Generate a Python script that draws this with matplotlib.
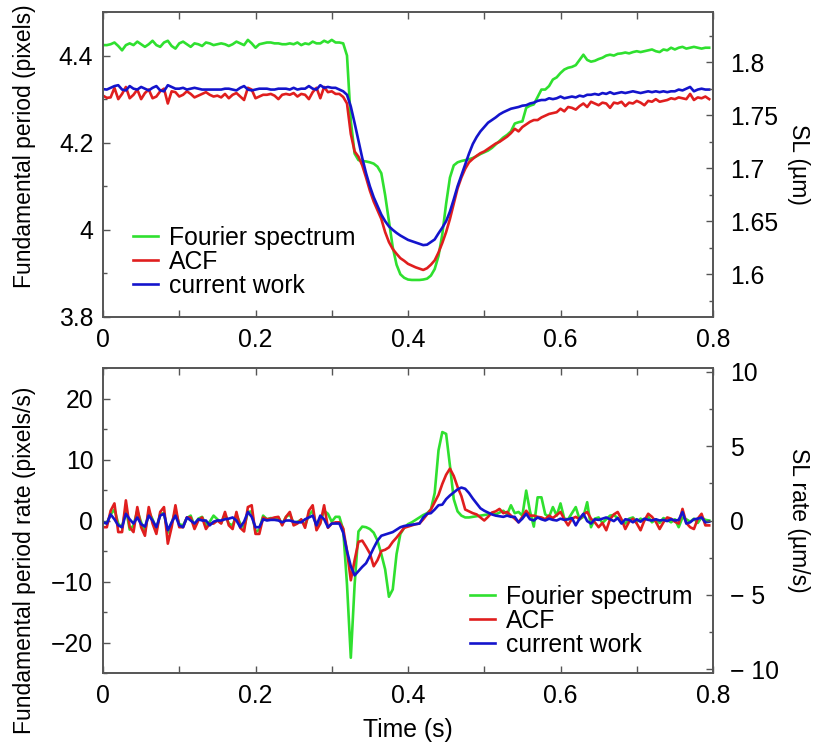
"""
plot.py

Fundamental period / sarcomere length traces (top) and their rates (bottom)
for three estimators: Fourier spectrum, ACF and the current work.

Output:
    out.png
"""

from __future__ import annotations

import matplotlib

matplotlib.use("Agg")
import matplotlib.pyplot as plt
import numpy as np
from matplotlib.ticker import MultipleLocator


DT = 0.005  # s between frames
PIXEL_TO_UM = 0.4105  # SL (um) per pixel of fundamental period

LABELS = ["Fourier spectrum", "ACF", "current work"]
COLORS = ["#2fe02f", "#e01e1e", "#1414cc"]

# --- top panel: fundamental period (pixels), one value per frame ---
period_fourier = [
    4.424, 4.424, 4.426, 4.430, 4.422, 4.412, 4.424, 4.428, 4.424, 4.432,
    4.426, 4.420, 4.426, 4.434, 4.424, 4.420, 4.430, 4.434, 4.422, 4.416,
    4.428, 4.432, 4.426, 4.420, 4.428, 4.426, 4.422, 4.430, 4.428, 4.424,
    4.426, 4.428, 4.426, 4.422, 4.426, 4.432, 4.428, 4.424, 4.436, 4.428,
    4.418, 4.426, 4.428, 4.430, 4.430, 4.428, 4.428, 4.426, 4.426, 4.428,
    4.426, 4.430, 4.424, 4.428, 4.426, 4.432, 4.428, 4.428, 4.434, 4.430,
    4.436, 4.430, 4.430, 4.428,
    4.400, 4.250, 4.175, 4.160, 4.158, 4.157, 4.155, 4.152, 4.145, 4.130,
    4.080, 4.020, 3.960, 3.920, 3.898, 3.890,
    3.886, 3.885, 3.885, 3.885, 3.886, 3.888, 3.895, 3.910, 3.940, 3.990,
    4.060, 4.120, 4.148, 4.155, 4.158, 4.160, 4.162, 4.165, 4.169, 4.174,
    4.178, 4.182, 4.188, 4.196, 4.204, 4.212, 4.218, 4.226, 4.244, 4.247,
    4.249, 4.280, 4.285, 4.288, 4.305, 4.322, 4.322, 4.330, 4.345, 4.350,
    4.360, 4.368, 4.372, 4.374, 4.378, 4.390, 4.402, 4.390, 4.386, 4.388,
    4.392, 4.395, 4.400, 4.402, 4.400, 4.404, 4.405, 4.407, 4.405, 4.408,
    4.410, 4.408, 4.410, 4.412, 4.414, 4.410, 4.408, 4.414, 4.412, 4.418,
    4.414, 4.418, 4.420, 4.416, 4.418, 4.420, 4.418, 4.416, 4.418, 4.418,
]
period_acf = [
    4.308, 4.303, 4.304, 4.326, 4.300, 4.312, 4.328, 4.302, 4.310, 4.322,
    4.300, 4.314, 4.322, 4.302, 4.306, 4.318, 4.324, 4.290, 4.318, 4.316,
    4.306, 4.310, 4.318, 4.312, 4.304, 4.308, 4.312, 4.316, 4.310, 4.306,
    4.308, 4.304, 4.312, 4.302, 4.310, 4.314, 4.306, 4.298, 4.326, 4.322,
    4.302, 4.306, 4.310, 4.310, 4.312, 4.308, 4.300, 4.310, 4.312, 4.310,
    4.314, 4.306, 4.312, 4.310, 4.300, 4.316, 4.326, 4.302, 4.328, 4.316,
    4.318, 4.312, 4.312, 4.305,
    4.290, 4.220, 4.180, 4.168, 4.148, 4.120, 4.090, 4.065, 4.045, 4.025,
    3.995, 3.972, 3.956, 3.945, 3.935, 3.929,
    3.922, 3.918, 3.914, 3.911, 3.908, 3.912, 3.920, 3.930, 3.948, 3.970,
    3.995, 4.025, 4.060, 4.095, 4.120, 4.140, 4.155, 4.163, 4.170, 4.176,
    4.180, 4.186, 4.192, 4.198, 4.202, 4.208, 4.214, 4.222, 4.232, 4.226,
    4.236, 4.242, 4.248, 4.252, 4.252, 4.258, 4.262, 4.266, 4.268, 4.270,
    4.278, 4.272, 4.282, 4.280, 4.276, 4.284, 4.290, 4.282, 4.294, 4.290,
    4.286, 4.292, 4.290, 4.280, 4.292, 4.290, 4.294, 4.284, 4.292, 4.290,
    4.296, 4.292, 4.286, 4.296, 4.294, 4.300, 4.294, 4.296, 4.298, 4.302,
    4.300, 4.304, 4.302, 4.300, 4.312, 4.298, 4.304, 4.302, 4.306, 4.300,
]
period_current = [
    4.323, 4.322, 4.326, 4.330, 4.332, 4.322, 4.320, 4.330, 4.324, 4.322,
    4.328, 4.324, 4.320, 4.326, 4.330, 4.320, 4.318, 4.332, 4.328, 4.324,
    4.324, 4.326, 4.322, 4.324, 4.326, 4.324, 4.322, 4.322, 4.322, 4.322,
    4.322, 4.322, 4.324, 4.324, 4.322, 4.320, 4.326, 4.330, 4.322, 4.320,
    4.322, 4.324, 4.324, 4.324, 4.322, 4.322, 4.324, 4.324, 4.324, 4.322,
    4.326, 4.322, 4.324, 4.324, 4.330, 4.324, 4.322, 4.332, 4.326, 4.328,
    4.326, 4.326, 4.322, 4.318,
    4.310, 4.283, 4.245, 4.205, 4.165, 4.130, 4.100, 4.075, 4.055, 4.035,
    4.020, 4.008, 4.000, 3.993, 3.987, 3.982,
    3.977, 3.974, 3.971, 3.968, 3.965, 3.966, 3.972, 3.978, 3.992, 4.005,
    4.020, 4.042, 4.070, 4.100, 4.125, 4.150, 4.175, 4.197, 4.213, 4.226,
    4.236, 4.246, 4.252, 4.258, 4.265, 4.270, 4.274, 4.278, 4.280, 4.282,
    4.285, 4.286, 4.290, 4.292, 4.296, 4.298, 4.298, 4.302, 4.300, 4.302,
    4.306, 4.302, 4.304, 4.306, 4.304, 4.308, 4.306, 4.310, 4.310, 4.312,
    4.310, 4.314, 4.312, 4.316, 4.312, 4.314, 4.316, 4.314, 4.316, 4.318,
    4.316, 4.314, 4.316, 4.318, 4.316, 4.318, 4.316, 4.318, 4.316, 4.318,
    4.318, 4.322, 4.320, 4.324, 4.328, 4.318, 4.322, 4.324, 4.322, 4.322,
]

# --- bottom panel: fundamental period rate (pixels/s) ---
rate_fourier = [
    -0.3, -0.5, 1.0, 1.8, -0.5, -1.2, 2.0, -1.5, -0.8, 1.6,
    -0.3, -1.8, 1.5, 0.2, -1.5, 1.1, 1.2, -2.0, -0.5, 1.6,
    -0.6, -0.8, 0.4, 0.8, -0.9, 0.3, 0.6, -0.8, -0.2, 0.8,
    0.2, -0.4, 1.0, -0.5, -0.8, 0.9, -0.5, -1.2, 1.4, 1.5,
    -1.9, -1.5, 0.8, 0.2, 0.4, 0.3, 0.5, -0.6, 0.6, 1.0,
    -0.4, -0.2, 0.1, -0.8, 0.9, 1.6, -1.0, -0.3, 1.6, 1.1,
    -0.2, 0.6, 0.6,
    -1.5, -10.5, -22.5, -10.5, -1.8, -1.0, -1.1, -1.4, -2.0, -3.3,
    -5.5, -8.0, -12.5, -11.3, -5.5, -2.2, -1.2, -0.6, -0.3, 0.1,
    0.5, 0.9, 1.2, 1.8, 4.5, 11.5, 14.5, 14.2, 9.0, 3.5,
    1.5, 0.8, 0.5, 0.5, 0.6, 0.7, 0.8, 0.9, 1.0,
    1.2, 1.0, 1.3, 1.6, 1.0, 2.5, 1.2, 1.4, 0.8, 4.9,
    1.5, -1.0, 3.8, 3.8, 1.0, 0.6, 2.2, 0.8, 2.8, 0.3,
    0.2, 1.2, 2.2, 0.2, 0.6, 3.0, -1.1, 0.3, 0.5, -0.4,
    0.2, 0.8, 0.9, 0.4, -0.2, -0.5, 0.3, 0.5, -0.2, 0.3,
    0.0, 0.6, -0.3, 0.2, -0.4, 0.4, 0.1, -0.3, 0.2, -1.1,
    0.5, 0.2, -0.2, 0.3, -0.4, 0.5, 0.1, 0.0,
]
rate_acf = [
    -1.1, -1.1, 1.6, 2.8, -1.9, -1.9, 3.3, -1.1, -1.9, 2.2,
    -1.1, -2.5, 2.2, -0.5, -2.2, 1.4, 2.2, -3.8, -1.1, 2.5,
    -1.1, -1.1, 0.5, 0.5, -1.4, 0.0, 0.5, -1.4, -0.5, -0.5,
    0.0, -0.5, 1.4, -0.8, -1.4, 1.4, -1.2, -1.8, 2.2, 2.5,
    -2.2, -2.2, 0.5, 0.2, 0.3, 0.5, 0.6, -0.8, 0.6, 1.4,
    -0.8, -0.5, 0.2, -1.2, 1.6, 2.5, -1.6, -0.5, 2.5, -1.2,
    -0.5, -0.3, -0.3,
    -1.3, -5.0, -9.8, -6.5, -3.5, -3.3, -4.3, -5.4, -7.5, -6.5,
    -5.0, -4.8, -4.4, -3.5, -2.8, -2.0, -1.2, -1.0, -0.8, -0.6,
    -0.5, 0.2, 1.0, 1.8, 3.0, 4.2, 6.0, 7.5, 8.5, 7.3,
    5.5, 4.0, 1.8, 1.5, 1.2, 1.0, 0.5, 0.0, 0.6, 1.3,
    1.5, 1.9, 1.2, 1.4, 0.8, 0.3, -0.3, 0.6, 1.6, 0.8,
    0.8, 0.6, 0.5, 0.2, 0.8, 0.4, 0.9, 1.4, 0.2, -0.8,
    0.3, 0.6, 0.2, 1.0, 1.4, 0.3, -0.3, -1.1, -0.4, -1.6,
    0.2, 1.0, 1.4, 0.2, -1.4, -0.2, 0.3, -0.5, -1.6, 0.0,
    1.1, 0.6, -0.2, -1.4, -0.3, 0.5, 0.3, -0.2, -0.5, 1.9,
    -0.4, -1.1, -1.4, 0.3, 1.1, -0.8, -0.8,
]
rate_current = [
    -0.3, -0.5, 1.0, 0.2, -0.8, -1.1, 1.1, 0.2, -0.5, 0.5,
    -0.6, -1.0, 0.8, 0.0, -1.1, 0.8, 1.1, -1.6, -0.3, 0.8,
    -0.8, -1.1, 0.5, 0.0, -0.5, 0.2, 0.0, 0.0, -0.8, -0.2,
    0.0, 0.0, 0.2, 0.3, 0.5, 0.0, -1.1, -0.2, 1.4, 0.6,
    -1.1, -1.1, 0.2, 0.0, 0.1, 0.1, 0.0, -0.3, 0.0, 0.0,
    -0.2, -0.3, -0.3, 0.2, 0.5, 0.8, -0.8, 0.8, 0.2, -1.1,
    -0.5, -0.5, -0.5,
    -2.0, -5.0, -7.5, -9.0, -8.3, -7.6, -7.0, -5.8, -4.5, -3.3,
    -2.5, -2.3, -2.1, -1.9, -1.5, -1.1, -0.9, -0.8, -0.7, -0.6,
    -0.5, 0.5, 1.1, 1.2, 1.8, 2.5, 2.6, 3.5, 4.1, 4.6,
    5.1, 5.4, 5.2, 4.5, 3.6, 2.8, 2.0, 1.6, 1.3, 1.0,
    0.8, 0.7, 0.6, 0.8, 0.6, 0.6, -0.3, 0.3, 1.1, 0.2,
    0.0, 0.5, 0.2, 0.0, 0.3, 0.1, 0.0, 0.3, 0.1, 0.2,
    0.4, -0.8, 0.3, 1.1, -0.1, -0.5, 0.2, 0.1, 0.3, 0.5,
    0.2, -0.1, 0.4, -0.5, 0.2, 0.1, -0.3, 0.2, -0.2, 0.3,
    0.1, 0.0, 0.2, 0.0, 0.1, -0.1, 0.2, 0.0, 0.1, 1.4,
    -0.5, -0.3, 0.2, 0.3, 0.5, -0.3, -0.2,
]

# axis ranges / ticks
PERIOD_LIM = (3.8, 4.5)
PERIOD_TICKS = [3.8, 4.0, 4.2, 4.4]
PERIOD_TICKLABELS = ["3.8", "4", "4.2", "4.4"]
SL_TICKS = [1.6, 1.65, 1.7, 1.75, 1.8]
SL_TICKLABELS = ["1.6", "1.65", "1.7", "1.75", "1.8"]
RATE_LIM = (-25, 25)
RATE_TICKS = [-20, -10, 0, 10, 20]
RATE_TICKLABELS = ["\u221220", "\u221210", "0", "10", "20"]
SLRATE_TICKS = [-10, -5, 0, 5, 10]
SLRATE_TICKLABELS = ["\u2212 10", "\u2212 5", "0", "5", "10"]
TIME_TICKS = [0.0, 0.1, 0.2, 0.3, 0.4, 0.5, 0.6, 0.7, 0.8]
TIME_TICKLABELS = ["0", "", "0.2", "", "0.4", "", "0.6", "", "0.8"]

FIG_W, FIG_H = 819, 748
FONT_SIZE = 17.8
YLABEL_SIZE = 16.5
SPINE_COLOR = "#555555"

plt.rcParams["font.family"] = ["Liberation Sans", "DejaVu Sans"]
plt.rcParams["font.size"] = FONT_SIZE


def px_rect(left: float, top: float, right: float, bottom: float) -> list[float]:
    """Convert a pixel box (origin top-left) to figure fractions."""
    return [left / FIG_W, 1 - bottom / FIG_H, (right - left) / FIG_W, (bottom - top) / FIG_H]


def style_axes(ax: plt.Axes, twin: plt.Axes) -> None:
    """Gray frame, inward ticks on every side."""
    for a in (ax, twin):
        for spine in a.spines.values():
            spine.set_color(SPINE_COLOR)
            spine.set_linewidth(1.2)
    ax.set_xlim(0, 0.8)
    ax.set_xticks(TIME_TICKS, TIME_TICKLABELS)
    ax.tick_params(axis="x", which="both", direction="in", top=True, bottom=True,
                   length=5, width=1, color=SPINE_COLOR, pad=8, labelsize=FONT_SIZE)
    ax.tick_params(axis="y", which="major", direction="in", length=5, width=1,
                   color=SPINE_COLOR, pad=7, labelsize=FONT_SIZE)
    ax.tick_params(axis="y", which="minor", direction="in", length=3, width=1,
                   color=SPINE_COLOR)
    twin.tick_params(axis="y", which="major", direction="in", length=5, width=1,
                     color=SPINE_COLOR, pad=12, labelsize=FONT_SIZE)
    twin.tick_params(axis="y", which="minor", direction="in", length=3, width=1,
                     color=SPINE_COLOR)


def draw_series(ax: plt.Axes, series: list[list[float]]) -> None:
    for values, label, color in zip(series, LABELS, COLORS):
        t = DT * np.arange(len(values))
        ax.plot(t, values, color=color, lw=1.9, label=label)


def add_legend(ax: plt.Axes, x_px: float, y_px: float) -> None:
    ax.legend(loc="center left", bbox_to_anchor=(x_px / FIG_W, 1 - y_px / FIG_H),
              bbox_transform=ax.figure.transFigure, frameon=False,
              borderpad=0, borderaxespad=0, handlelength=1.0, handletextpad=0.45,
              labelspacing=0.0, fontsize=FONT_SIZE)


def main() -> None:
    fig = plt.figure(figsize=(FIG_W / 100, FIG_H / 100), dpi=100)

    # top: fundamental period and SL
    ax_top = fig.add_axes(px_rect(103, 12, 713, 317))
    ax_top_r = ax_top.twinx()
    draw_series(ax_top, [period_fourier, period_acf, period_current])
    ax_top.set_ylim(*PERIOD_LIM)
    ax_top.set_yticks(PERIOD_TICKS, PERIOD_TICKLABELS)
    ax_top.yaxis.set_minor_locator(MultipleLocator(0.1))
    ax_top_r.set_ylim(PERIOD_LIM[0] * PIXEL_TO_UM, PERIOD_LIM[1] * PIXEL_TO_UM)
    ax_top_r.set_yticks(SL_TICKS, SL_TICKLABELS)
    ax_top_r.yaxis.set_minor_locator(MultipleLocator(0.025))
    style_axes(ax_top, ax_top_r)
    ax_top.set_ylabel("Fundamental period (pixels)", va="center", ha="center",
                      fontsize=YLABEL_SIZE)
    ax_top.yaxis.set_label_coords(-0.128, 0.561)
    ax_top_r.set_ylabel("SL (\u00b5m)", rotation=270, va="center", ha="center",
                        fontsize=YLABEL_SIZE)
    ax_top_r.yaxis.set_label_coords(1.14, 0.5)
    add_legend(ax_top, 133, 262)

    # bottom: rates
    ax_bot = fig.add_axes(px_rect(103, 368, 713, 673))
    ax_bot_r = ax_bot.twinx()
    draw_series(ax_bot, [rate_fourier, rate_acf, rate_current])
    ax_bot.set_ylim(*RATE_LIM)
    ax_bot.set_yticks(RATE_TICKS, RATE_TICKLABELS)
    ax_bot.yaxis.set_minor_locator(MultipleLocator(5))
    ax_bot_r.set_ylim(RATE_LIM[0] * PIXEL_TO_UM, RATE_LIM[1] * PIXEL_TO_UM)
    ax_bot_r.set_yticks(SLRATE_TICKS, SLRATE_TICKLABELS)
    ax_bot_r.yaxis.set_minor_locator(MultipleLocator(2.5))
    style_axes(ax_bot, ax_bot_r)
    ax_bot.set_xlabel("Time (s)", labelpad=7)
    ax_bot.set_ylabel("Fundamental period rate (pixels/s)", va="center", ha="center",
                      fontsize=YLABEL_SIZE)
    ax_bot.yaxis.set_label_coords(-0.128, 0.37)
    ax_bot_r.set_ylabel("SL rate (\u00b5m/s)", rotation=270, va="center", ha="center",
                        fontsize=YLABEL_SIZE)
    ax_bot_r.yaxis.set_label_coords(1.14, 0.5)
    add_legend(ax_bot, 470, 621)

    fig.savefig("out.png", dpi=100)
    plt.close(fig)


if __name__ == "__main__":
    main()
